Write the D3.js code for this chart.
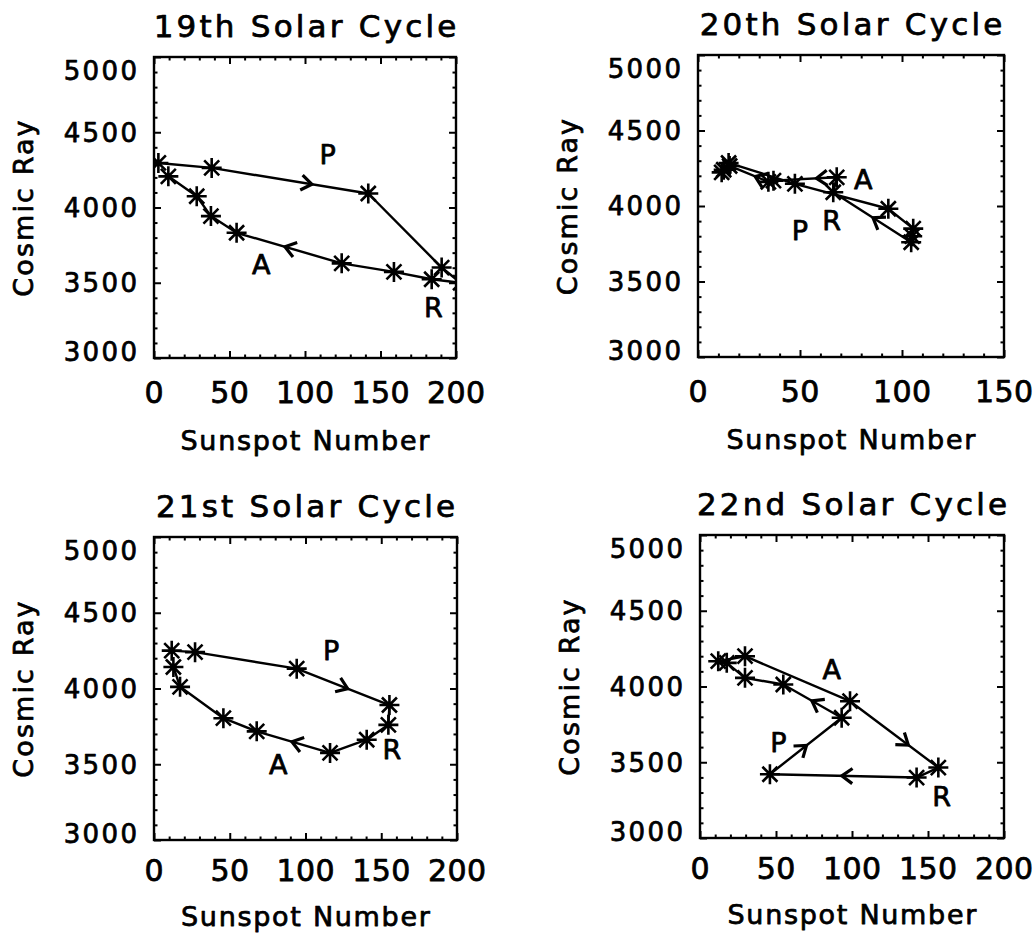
<!DOCTYPE html>
<html><head><meta charset="utf-8">
<script src="https://cdn.jsdelivr.net/npm/d3@7"></script>
<style>body{margin:0;background:#fff} svg{display:block}</style>
</head><body>
<svg id="c" width="1036" height="934"></svg>
<script>
// ---------- data ----------
const titles = ["19th Solar Cycle", "20th Solar Cycle", "21st Solar Cycle", "22nd Solar Cycle"];
const xDomainMax = [200, 150, 200, 200];
const xTickLabels = [[0, 50, 100, 150, 200], [0, 50, 100, 150], [0, 50, 100, 150, 200], [0, 50, 100, 150, 200]];
const yTickLabels = [3000, 3500, 4000, 4500, 5000];
const xAxisTitle = "Sunspot Number";
const yAxisTitle = "Cosmic Ray";

// 19th cycle (sunspot number, cosmic ray count), in time order
const c19Sunspot = [2.9, 38.2, 141.9, 190.5, 203, 183.9, 158.9, 124.3, 54.7, 37.7, 28.3, 9.5];
const c19Cosmic  = [4296, 4263, 4093, 3601, 3500, 3523, 3572, 3629, 3832, 3943, 4075, 4207];
// 20th cycle
const c20Sunspot = [11.6, 15, 47.5, 93.3, 105.5, 105, 104.5, 66.3, 68, 37, 34.5, 15.5, 12.6];
const c20Cosmic  = [4223, 4285, 4147, 3982, 3850, 3800, 3760, 4091, 4190, 4168, 4160, 4265, 4240];
// 21st cycle
const c21Sunspot = [11.7, 27.1, 94.2, 155.4, 154.7, 140.4, 116.2, 67.8, 45.8, 17.2, 12.8];
const c21Cosmic  = [4250, 4240, 4131, 3891, 3760, 3662, 3575, 3717, 3804, 4011, 4142];
// 22nd cycle
const c22Sunspot = [12, 29.6, 98.7, 156.8, 142.5, 46, 93.2, 54.8, 29.6, 17.6];
const c22Cosmic  = [4167, 4200, 3903, 3465, 3399, 3421, 3794, 4013, 4057, 4156];

// direction arrows: [segment index, fraction along segment]
const c19Arrows = [[1, 0.64], [7, 0.54]];
const c20Arrows = [[6, 0.49], [8, 0.32], [10, 0.34]];
const c21Arrows = [[2, 0.55], [6, 0.52]];
const c22Arrows = [[2, 0.66], [4, 0.51], [5, 0.51], [6, 0.51]];

// phase labels: [text, sunspot, cosmic]
const c19Labels = [["P", 115, 4351], ["A", 71, 3623], ["R", 185, 3336]];
const c20Labels = [["A", 81, 4180], ["P", 50, 3838], ["R", 65.5, 3904]];
const c21Labels = [["P", 117, 4250], ["A", 82, 3499], ["R", 157, 3597]];
const c22Labels = [["A", 86.6, 4112], ["P", 51.5, 3630], ["R", 159, 3278]];

const cycles = [
  {xs: c19Sunspot, ys: c19Cosmic, arrows: c19Arrows, labels: c19Labels},
  {xs: c20Sunspot, ys: c20Cosmic, arrows: c20Arrows, labels: c20Labels},
  {xs: c21Sunspot, ys: c21Cosmic, arrows: c21Arrows, labels: c21Labels},
  {xs: c22Sunspot, ys: c22Cosmic, arrows: c22Arrows, labels: c22Labels}
];

// ---------- layout ----------
const frames = [
  {x: 154, y: 57, w: 302, h: 301, tickLab: 45, axLab: 92},
  {x: 698, y: 55, w: 306, h: 302, tickLab: 45, axLab: 92},
  {x: 154, y: 537, w: 303, h: 303, tickLab: 41, axLab: 86},
  {x: 700, y: 535, w: 304, h: 303, tickLab: 41, axLab: 86}
];
const FONT = "DejaVu Sans, Verdana, sans-serif";
const TXT_STROKE = 0.75;

const svg = d3.select("#c");
svg.append("rect").attr("width", 1036).attr("height", 934).attr("fill", "#fff");

function txt(g, s, size, ls) {
  return g.append("text").attr("font-family", FONT).attr("font-size", size)
    .attr("letter-spacing", ls).attr("fill", "#000")
    .attr("stroke", "#000").attr("stroke-width", TXT_STROKE).attr("stroke-linejoin", "round")
    .text(s);
}

function star(g, cx, cy) {
  const r = 10, d = 7.5;
  const p = `M${cx - r},${cy}L${cx + r},${cy}M${cx},${cy - r}L${cx},${cy + r}` +
            `M${cx - d},${cy - d}L${cx + d},${cy + d}M${cx - d},${cy + d}L${cx + d},${cy - d}`;
  g.append("path").attr("d", p).attr("stroke", "#000").attr("stroke-width", 2.6).attr("fill", "none");
}

frames.forEach((f, i) => {
  const cyc = cycles[i];
  const x = d3.scaleLinear().domain([0, xDomainMax[i]]).range([0, f.w]);
  const y = d3.scaleLinear().domain([3000, 5000]).range([f.h, 0]);
  const g = svg.append("g").attr("transform", `translate(${f.x},${f.y})`);

  g.append("clipPath").attr("id", "clip" + i)
    .append("rect").attr("x", 0).attr("y", 0).attr("width", f.w).attr("height", f.h);

  // ticks on all four sides (inward)
  const xMajor = d3.range(0, xDomainMax[i] + 1, 50);
  const xMinor = d3.range(0, xDomainMax[i] + 1, 10).filter(v => v % 50 !== 0);
  const yMajor = d3.range(3000, 5001, 500);
  const yMinor = d3.range(3000, 5001, 100).filter(v => v % 500 !== 0);
  const tickStyle = sel => {
    sel.select(".domain").remove();
    sel.selectAll("line").attr("stroke", "#000").attr("stroke-width", 2);
  };
  const addAxis = (axisGen, vals, size, tr) => {
    g.append("g").attr("transform", tr)
      .call(axisGen.tickValues(vals).tickSize(size).tickFormat(""))
      .call(tickStyle);
  };
  addAxis(d3.axisBottom(x), xMajor, -7, `translate(0,${f.h})`);
  addAxis(d3.axisBottom(x), xMinor, -3.5, `translate(0,${f.h})`);
  addAxis(d3.axisTop(x), xMajor, -7, `translate(0,0)`);
  addAxis(d3.axisTop(x), xMinor, -3.5, `translate(0,0)`);
  addAxis(d3.axisLeft(y), yMajor, -7, `translate(0,0)`);
  addAxis(d3.axisLeft(y), yMinor, -3.5, `translate(0,0)`);
  addAxis(d3.axisRight(y), yMajor, -7, `translate(${f.w},0)`);
  addAxis(d3.axisRight(y), yMinor, -3.5, `translate(${f.w},0)`);

  // frame
  g.append("rect").attr("x", 0).attr("y", 0).attr("width", f.w).attr("height", f.h)
    .attr("fill", "none").attr("stroke", "#000").attr("stroke-width", 2.4);

  // data
  const pts = cyc.xs.map((v, k) => [x(v), y(cyc.ys[k])]);
  const dg = g.append("g").attr("clip-path", `url(#clip${i})`);
  dg.append("path").attr("d", d3.line()(pts))
    .attr("fill", "none").attr("stroke", "#000").attr("stroke-width", 2.4).attr("stroke-linejoin", "round");
  pts.forEach(p => star(dg, p[0], p[1]));

  // arrows
  cyc.arrows.forEach(([s, fr]) => {
    const p0 = pts[s], p1 = pts[s + 1];
    const tx = p0[0] + fr * (p1[0] - p0[0]), ty = p0[1] + fr * (p1[1] - p0[1]);
    const a = Math.atan2(p1[1] - p0[1], p1[0] - p0[0]);
    const L = 13, th = 0.62;
    const a1 = [tx - L * Math.cos(a - th), ty - L * Math.sin(a - th)];
    const a2 = [tx - L * Math.cos(a + th), ty - L * Math.sin(a + th)];
    dg.append("path").attr("d", `M${a1[0]},${a1[1]}L${tx},${ty}L${a2[0]},${a2[1]}`)
      .attr("fill", "none").attr("stroke", "#000").attr("stroke-width", 3.2)
      .attr("stroke-linejoin", "miter");
  });

  // labels P A R
  cyc.labels.forEach(([t, lx, ly]) => {
    txt(g, t, 27, 0).attr("x", x(lx)).attr("y", y(ly)).attr("dy", "0.36em")
      .attr("text-anchor", "middle");
  });

  // tick labels
  xTickLabels[i].forEach(v => {
    txt(g, v, 30, 0.4).attr("x", x(v) + 0.2).attr("y", f.h + f.tickLab)
      .attr("text-anchor", "middle");
  });
  yTickLabels.forEach(v => {
    const cy = Math.max(14, Math.min(f.h - 6, y(v)));
    txt(g, v, 26, 2.4).attr("x", -17 + 2.4).attr("y", cy).attr("dy", "0.36em")
      .attr("text-anchor", "end");
  });

  // axis titles
  txt(g, xAxisTitle, 27, 1.7).attr("x", f.w / 2 + 0.8).attr("y", f.h + f.axLab)
    .attr("text-anchor", "middle");
  txt(g, yAxisTitle, 27, 2.1).attr("transform", `translate(${-121},${f.h / 2}) rotate(-90)`)
    .attr("text-anchor", "middle");

  // title
  txt(g, titles[i], 31, 3.2).attr("x", f.w / 2 + 1.6).attr("y", -20)
    .attr("text-anchor", "middle");
});
</script>
</body></html>
